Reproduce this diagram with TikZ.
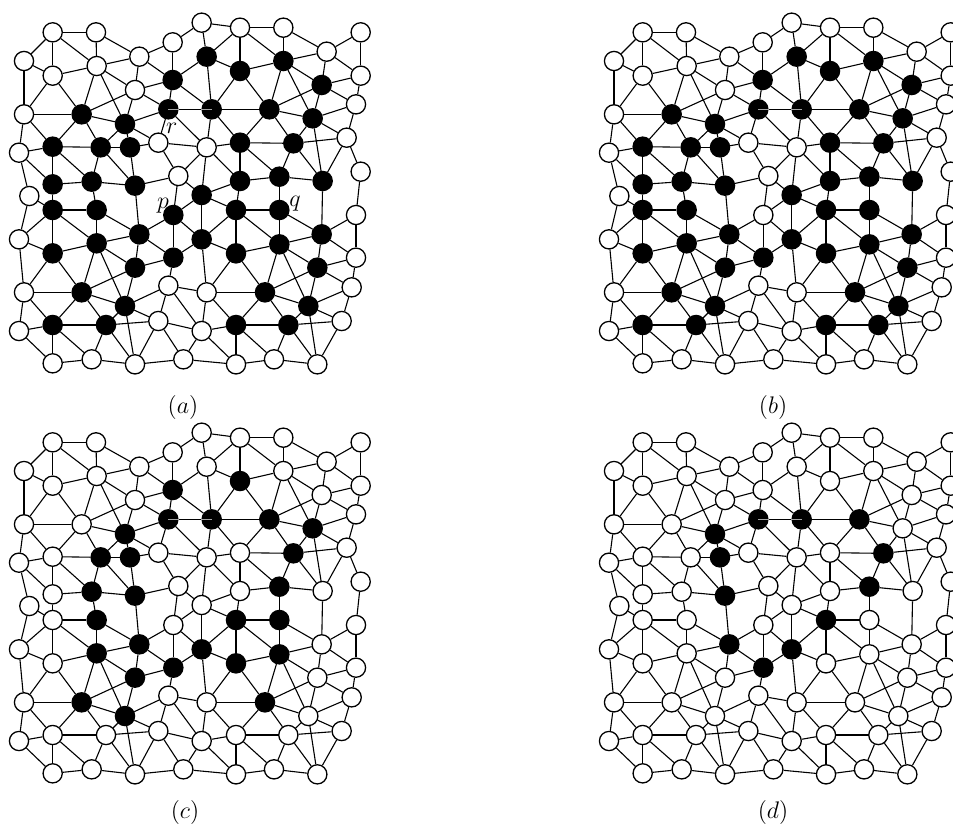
\documentclass[tikz,border=0pt]{standalone}
\makeatletter
\def\nodelist{1/158/97,2/288/97,3/605/68,4/720/83,5/850/83,6/1082/97,7/72/183,8/158/227,9/290/198,10/418/170,11/518/127,12/620/170,13/980/155,14/720/213,15/850/183,16/1082/227,17/518/240,18/405/270,19/965/255,20/72/343,21/245/343,22/505/328,23/635/328,24/808/328,25/1068/313,26/375/372,27/938/355,28/57/458,29/158/440,30/302/442,31/390/442,32/475/428,33/620/442,34/720/428,35/880/430,36/1040/413,37/158/553,38/275/545,39/405/557,40/535/528,41/720/543,42/838/530,43/968/543,44/1082/515,45/88/588,46/605/585,47/158/630,48/290/630,49/520/645,50/708/630,51/838/630,52/1068/645,53/57/718,54/290/730,55/418/703,56/605/718,57/838/733,58/965/703,59/158/760,60/520/773,61/708/760,62/1068/773,63/405/803,64/952/803,65/72/877,66/245/877,67/505/857,68/620/877,69/795/877,70/1055/862,71/375/918,72/925/918,73/57/993,74/158/975,75/318/975,76/475/963,77/605/993,78/708/975,79/865/975,80/1025/963,81/158/1090,82/275/1078,83/405/1093,84/550/1078,85/708/1093,86/822/1078,87/952/1093}
\def\edgelist{1/2,1/7,1/8,1/9,2/9,2/10,7/8,7/20,8/9,8/20,8/21,9/10,9/21,9/18,9/26,10/18,10/11,10/17,11/3,11/17,18/17,18/21,18/26,18/22,21/20,21/26,21/29,21/30,20/29,20/28,26/30,26/31,26/32,26/22,22/17,22/23,22/32,22/33,17/12,17/23,12/3,12/4,12/14,12/23,3/4,4/5,4/14,4/15,5/15,5/13,13/6,13/16,13/15,13/19,6/16,15/14,15/24,15/19,15/27,16/19,16/25,19/24,19/25,19/27,14/24,14/23,23/24,23/33,23/34,24/34,24/27,24/35,27/25,27/36,27/35,27/43,25/36,36/35,36/44,36/43,35/34,35/42,35/43,34/33,34/41,34/42,33/32,33/40,33/41,33/46,32/40,32/31,31/39,31/30,30/29,30/38,30/39,29/37,29/28,29/38,28/45,28/37,37/38,37/47,45/47,38/48,38/39,39/40,39/55,40/49,40/46,41/42,41/46,41/50,42/43,42/51,43/58,44/52,45/53,46/49,46/50,46/56,47/48,47/53,47/59,47/54,48/54,48/55,49/55,49/60,49/56,50/51,50/56,50/61,50/57,51/57,51/58,52/58,52/62,53/59,53/65,54/59,54/55,54/66,54/63,54/71,55/63,55/60,56/60,56/61,56/68,57/58,57/61,57/64,57/69,57/72,58/62,58/64,59/65,59/66,60/63,60/67,61/68,61/69,62/64,62/70,63/66,63/71,64/69,64/70,64/72,65/66,65/73,65/74,66/71,66/74,66/75,67/68,67/71,67/76,67/77,68/69,68/77,68/78,69/72,69/78,69/79,70/72,70/80,71/75,71/76,71/83,72/79,72/80,72/87,73/74,73/81,74/75,74/81,74/82,75/76,75/82,75/83,76/77,76/83,76/84,77/78,77/84,77/85,78/79,78/85,78/86,79/80,79/86,79/87,80/87,81/82,82/83,83/84,84/85,85/86,86/87}
\newcommand\drawpanel[4]{%
  \begin{scope}[shift={(#2,#3)}]
    \def\blk{,#4,}%
    \foreach \n/\x/\y in \nodelist {%
      \edef\tmp{\noexpand\in@{,\n,}{\blk}}\tmp
      \ifin@ \node[bvtx] (#1\n) at (\x,\y) {};\else \node[vtx] (#1\n) at (\x,\y) {};\fi
    }
    \foreach \a/\b in \edgelist {\draw[edge] (#1\a) -- (#1\b);}
    \draw[artefact] (#122.center) -- (#122.east) (#123.west) -- (#123.center);
  \end{scope}}
\makeatother
\begin{document}
\begin{tikzpicture}[x=0.166667pt,y=-0.166667pt,
  vtx/.style={circle,draw=black,line width=0.65pt,fill=white,minimum size=9.6pt,inner sep=0pt},
  bvtx/.style={vtx,fill=black},
  edge/.style={line width=0.55pt},
  artefact/.style={gray!70,line width=0.6pt},
  lbl/.style={font=\fontsize{11.5}{13}\selectfont,inner sep=0pt}]
\useasboundingbox (0,0) rectangle (2859,2481);
\clip (0,0) rectangle (2859,2481);
\drawpanel{a}{0}{0}{12,14,15,17,19,21,22,23,24,26,27,29,30,31,34,35,37,38,39,41,42,43,46,47,48,49,50,51,54,55,56,57,58,59,60,61,63,64,66,69,71,72,74,75,78,79}
\drawpanel{b}{1770}{0}{12,14,15,17,19,21,22,23,24,26,27,29,30,31,34,35,37,38,39,41,42,43,46,47,48,50,51,54,55,56,57,58,59,60,61,63,64,66,69,71,72,74,75,78,79}
\drawpanel{c}{0}{1230}{14,17,22,23,24,26,27,30,31,35,38,39,42,48,50,51,54,55,56,57,60,61,63,66,69,71}
\drawpanel{d}{1770}{1230}{22,23,24,26,31,35,39,42,50,55,56,60}
\node[lbl] (labr) at (515,385) {$r$};
\node[lbl] (labp) at (489,617) {$p$};
\node[lbl] (labq) at (885,610) {$q$};
\node[lbl] (capa) at (549,1221) {$(a)$};
\node[lbl] (capb) at (2319,1221) {$(b)$};
\node[lbl] (capc) at (555,2436) {$(c)$};
\node[lbl] (capd) at (2319,2436) {$(d)$};
\end{tikzpicture}
\end{document}
